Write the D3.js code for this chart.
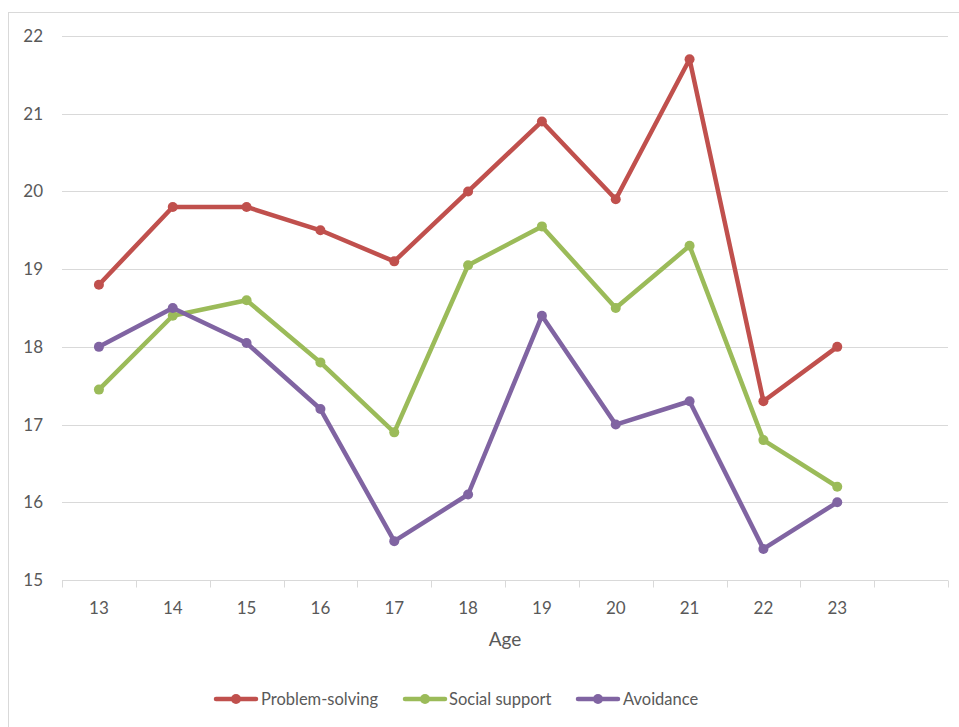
<!DOCTYPE html>
<html>
<head>
<meta charset="utf-8">
<script src="https://cdn.jsdelivr.net/npm/d3@7"></script>
<style>
  html, body { margin: 0; padding: 0; background: #fff; }
  svg { display: block; font-family: Lato, "Open Sans", sans-serif; }
</style>
</head>
<body>
<svg id="chart" width="959" height="727"></svg>
<script>
// Ages on the category axis (one trailing empty slot, as in the original workbook)
const ages = ["13", "14", "15", "16", "17", "18", "19", "20", "21", "22", "23", ""];
const yTicks = [15, 16, 17, 18, 19, 20, 21, 22];

// Mean coping scores by age
const problemSolving = [18.8, 19.8, 19.8, 19.5, 19.1, 20.0, 20.9, 19.9, 21.7, 17.3, 18.0];
const socialSupport  = [17.45, 18.4, 18.6, 17.8, 16.9, 19.05, 19.55, 18.5, 19.3, 16.8, 16.2];
const avoidance      = [18.0, 18.5, 18.05, 17.2, 15.5, 16.1, 18.4, 17.0, 17.3, 15.4, 16.0];

const seriesNames  = ["Problem-solving", "Social support", "Avoidance"];
const seriesColors = ["#C0504D", "#9BBB59", "#8064A2"];
const seriesValues = [problemSolving, socialSupport, avoidance];

const svg = d3.select("#chart");
const plot = { left: 62, right: 948, top: 36, bottom: 580 };

// Outer chart frame
svg.append("rect")
  .attr("x", 8.5).attr("y", 12.5)
  .attr("width", 970).attr("height", 740)
  .attr("fill", "#fff").attr("stroke", "#d9d9d9");

const x = d3.scaleBand().domain(ages).range([plot.left, plot.right]);
const y = d3.scaleLinear().domain([15, 22]).range([plot.bottom, plot.top]);

// Horizontal gridlines
svg.append("g")
  .selectAll("line")
  .data(yTicks.filter(t => t !== 15))
  .join("line")
  .attr("x1", plot.left).attr("x2", plot.right)
  .attr("y1", d => Math.round(y(d)) + 0.5).attr("y2", d => Math.round(y(d)) + 0.5)
  .attr("stroke", "#d9d9d9").attr("stroke-width", 1);

// Y axis labels
const yAxis = svg.append("g")
  .attr("transform", `translate(${plot.left},0)`)
  .call(d3.axisLeft(y).tickValues(yTicks).tickSize(0).tickPadding(19).tickFormat(d3.format("d")));
yAxis.select(".domain").remove();
yAxis.selectAll("text").attr("fill", "#595959").style("font-size", "17px")
  .style("font-family", "Lato, 'Open Sans', sans-serif");

// X axis: baseline, tick marks between categories, and labels
const xg = svg.append("g").attr("transform", `translate(0,${Math.round(plot.bottom) + 0.5})`);
xg.append("line")
  .attr("x1", plot.left).attr("x2", plot.right)
  .attr("stroke", "#d9d9d9").attr("stroke-width", 1);
const edges = ages.map(a => x(a)).concat([plot.right]);
xg.selectAll("line.tick")
  .data(edges)
  .join("line")
  .attr("class", "tick")
  .attr("x1", d => Math.round(d) + 0.5).attr("x2", d => Math.round(d) + 0.5)
  .attr("y1", 0).attr("y2", 7)
  .attr("stroke", "#d9d9d9");
xg.selectAll("text")
  .data(ages)
  .join("text")
  .attr("x", d => x(d) + x.bandwidth() / 2)
  .attr("y", 33)
  .attr("text-anchor", "middle")
  .attr("fill", "#595959")
  .style("font-size", "17px")
  .text(d => d);

// Axis title
svg.append("text")
  .attr("x", (plot.left + plot.right) / 2).attr("y", 646)
  .attr("text-anchor", "middle")
  .attr("fill", "#595959")
  .style("font-size", "19px")
  .text("Age");

// Series lines and markers
const cx = i => x(ages[i]) + x.bandwidth() / 2;
const line = d3.line().x((d, i) => cx(i)).y(d => y(d));

seriesValues.forEach((vals, s) => {
  const g = svg.append("g");
  g.append("path")
    .datum(vals)
    .attr("d", line)
    .attr("fill", "none")
    .attr("stroke", seriesColors[s])
    .attr("stroke-width", 4.5)
    .attr("stroke-linejoin", "round")
    .attr("stroke-linecap", "round");
  g.selectAll("circle")
    .data(vals)
    .join("circle")
    .attr("cx", (d, i) => cx(i))
    .attr("cy", d => y(d))
    .attr("r", 5)
    .attr("fill", seriesColors[s]);
});

// Legend
const legendItems = [
  { x: 216, textX: 261 },
  { x: 405, textX: 449 },
  { x: 578, textX: 623 }
];
const legendY = 699;
legendItems.forEach((it, s) => {
  const g = svg.append("g");
  g.append("line")
    .attr("x1", it.x).attr("x2", it.x + 40)
    .attr("y1", legendY).attr("y2", legendY)
    .attr("stroke", seriesColors[s]).attr("stroke-width", 4.5)
    .attr("stroke-linecap", "round");
  g.append("circle")
    .attr("cx", it.x + 20).attr("cy", legendY).attr("r", 5)
    .attr("fill", seriesColors[s]);
  g.append("text")
    .attr("x", it.textX).attr("y", legendY + 6)
    .attr("fill", "#595959")
    .style("font-size", "16.5px")
    .text(seriesNames[s]);
});
</script>
</body>
</html>
